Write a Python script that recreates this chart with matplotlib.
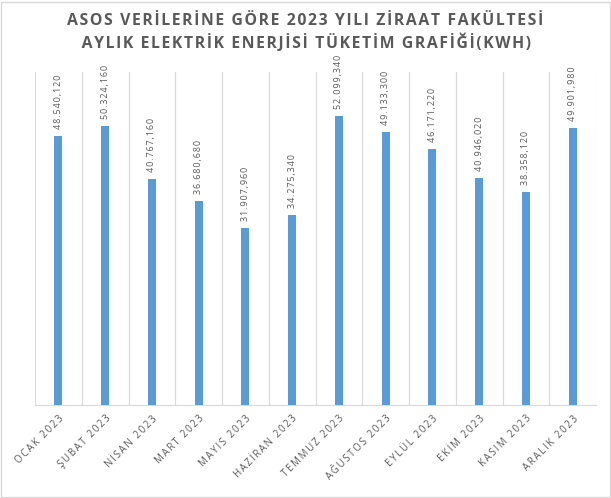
import matplotlib.pyplot as plt
from matplotlib.patches import Rectangle

plt.rcParams['font.family'] = ['Open Sans', 'DejaVu Sans']
grey = '#595959'
blue = '#5B9BD5'

months = ['OCAK 2023', 'ŞUBAT 2023', 'NİSAN 2023', 'MART 2023', 'MAYIS 2023', 'HAZİRAN 2023',
          'TEMMUZ 2023', 'AĞUSTOS 2023', 'EYLÜL 2023', 'EKİM 2023', 'KASIM 2023', 'ARALIK 2023']
kwh = [48540.120, 50324.160, 40767.160, 36680.680, 31907.960, 34275.340,
       52099.340, 49133.300, 46171.220, 40946.020, 38358.120, 49901.980]
value_labels = ['48.540,120', '50.324,160', '40.767,160', '36.680,680', '31.907,960', '34.275,340',
                '52.099,340', '49.133,300', '46.171,220', '40.946,020', '38.358,120', '49.901,980']

title = 'ASOS VERİLERİNE GÖRE 2023 YILI ZİRAAT FAKÜLTESİ\nAYLIK ELEKTRİK ENERJİSİ TÜKETİM GRAFİĞİ(KWH)'


def spaced(s, sep='\u200a'):
    return sep.join(s)


fig = plt.figure(figsize=(6.11, 4.98), dpi=100)
fig.patches.append(Rectangle((0.002, 0.002), 0.996, 0.994, transform=fig.transFigure,
                             fill=False, edgecolor='#D9D9D9', linewidth=1))
ax = fig.add_axes([0.0573, 0.1867, 0.9182, 0.6687])

x = list(range(len(months)))
ax.bar(x, kwh, width=0.17, color=blue, zorder=3)
for xi, v, lab in zip(x, kwh, value_labels):
    ax.annotate(spaced(lab), (xi, v), xytext=(0, 5), textcoords='offset points',
                rotation=90, ha='center', va='bottom', fontsize=6.5, color=grey)

ax.set_xlim(-0.5, len(months) - 0.5)
ax.set_ylim(0, 60000)
ax.set_yticks([])
for b in range(len(months) + 1):
    ax.axvline(b - 0.5, color='#D9D9D9', linewidth=0.8, zorder=1)
for s in ['top', 'left', 'right']:
    ax.spines[s].set_visible(False)
ax.spines['bottom'].set_color('#D9D9D9')
ax.set_xticks(x)
ax.set_xticklabels([spaced(m, '\u2009') for m in months], rotation=45, ha='right',
                   rotation_mode='anchor', fontsize=7, color=grey)
ax.tick_params(axis='x', length=0, pad=6)

fig.text(0.5, 0.935, spaced(title, '\u200a'), ha='center', va='center', fontsize=11.3,
         fontweight='bold', color=grey, linespacing=1.35)

fig.savefig('out.png', dpi=100)
